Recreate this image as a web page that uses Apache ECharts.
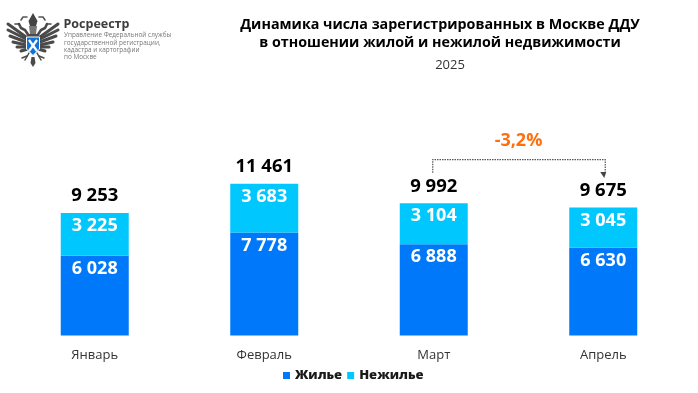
<!DOCTYPE html>
<html><head><meta charset="utf-8">
<style>html,body{margin:0;padding:0;background:#fff}#c{width:698px;height:393px}</style>
<script src="https://cdn.jsdelivr.net/npm/echarts@6/dist/echarts.min.js"></script>
</head><body><div id="c"></div>
<script>
const categories = ['Январь','Февраль','Март','Апрель'];
const housing = [6028,7778,6888,6630];
const nonHousing = [3225,3683,3104,3045];
const totals = [9253,11461,9992,9675];
const changeLabel = '-3,2%';
const bracketFrom = ['Март',12290];
const bracketTop = 13290;
const bracketTo = ['Апрель',11900];
const fmt = v => String(v).replace(/\B(?=(\d{3})+$)/g,' ');
const font = '"Open Sans"';
const chart = echarts.init(document.getElementById('c'));
const barLabel = {show:true,position:'insideTop',distance:4,color:'#fff',fontFamily:font,fontWeight:700,fontSize:18,formatter:p=>fmt(p.value)};

// crest decoration, mirrored about x = 33
const mx = 33, crest = [];
const mir = pts => pts.map(p=>[2*mx-p[0],p[1]]);
const stroke = (pts,w,c) => { [pts,mir(pts)].forEach(q=>crest.push({type:'polyline',shape:{points:q},style:{stroke:c||'#4a4a4a',lineWidth:w,fill:null,lineCap:'round'}})); };
[[[26,37],[8,24]],[[26,39],[8,30]],[[26,42],[10,36]],[[26,45],[13,42]],[[27,47],[17,47]],[[28,49],[21,51]]].forEach(f=>stroke(f,3));
stroke([[29,36],[25,30],[21,28],[19,24]],2.6);
stroke([[19,24],[15,24]],1.5);
stroke([[21,20],[23,17],[27,17]],1.6,'#555');
stroke([[29,53],[25,60]],1.5);
stroke([[27,56],[22,58]],1.5);
crest.push(
  {type:'polygon',shape:{points:[[28,34],[38,34],[40,37],[26,37]]},style:{fill:'#4a4a4a'}},
  {type:'polygon',shape:{points:[[29,26],[37,26],[36,34],[30,34]]},style:{fill:'#777'}},
  {type:'polygon',shape:{points:[[28.5,21],[33,13],[37.5,21],[36,26],[30,26]]},style:{fill:'#444'}},
  {type:'polygon',shape:{points:[[31.5,57],[34.5,57],[35.5,63],[33,67],[30.5,63]]},style:{fill:'#4a4a4a'}},
  {type:'polygon',shape:{points:[[26.5,37],[39.5,37],[39.5,49],[33,55.5],[26.5,49]]},style:{fill:'#1273d6',stroke:'#fff',lineWidth:1}},
  {type:'polyline',shape:{points:[[29,40],[37,51]]},style:{stroke:'#fff',lineWidth:2.2}},
  {type:'polyline',shape:{points:[[37,40],[29,51]]},style:{stroke:'#fff',lineWidth:2.2}}
);

chart.setOption({
  animation:false,
  textStyle:{fontFamily:font},
  grid:{left:10,right:10,top:176.7,bottom:57.5},
  legend:{data:['Жилье','Нежилье'],left:278,top:364,itemWidth:7,itemHeight:7,itemGap:5,icon:'rect',
    textStyle:{fontFamily:font,fontWeight:800,fontSize:13,color:'#1a1a1a'}},
  xAxis:{type:'category',data:categories,axisLine:{show:false},axisTick:{show:false},
    axisLabel:{fontFamily:font,fontSize:13,color:'#333',margin:13}},
  yAxis:{type:'value',min:0,max:12000,show:false},
  series:[
    {name:'Жилье',type:'bar',stack:'t',barWidth:68,data:housing,itemStyle:{color:'#0078fa'},label:barLabel},
    {name:'Нежилье',type:'bar',stack:'t',barWidth:68,data:nonHousing,itemStyle:{color:'#00c8ff'},label:barLabel},
    {name:'Итого',type:'line',data:totals,symbol:'circle',symbolSize:1,itemStyle:{color:'rgba(0,0,0,0)'},lineStyle:{opacity:0},z:5,
      label:{show:true,position:'top',distance:7,color:'#000',fontFamily:font,fontWeight:700,fontSize:18.5,formatter:p=>fmt(p.value)}},
    {name:'Изменение',type:'custom',clip:false,silent:true,z:6,data:[[0]],
      renderItem:(params,api)=>{
        const a=api.coord(bracketFrom), t=api.coord([bracketFrom[0],bracketTop]), b=api.coord(bracketTo);
        const rx=b[0]+2, tr=[rx,t[1]];
        return {type:'group',children:[
          {type:'polyline',shape:{points:[[a[0]-1,a[1]],[a[0]-1,t[1]],tr,[rx,b[1]-5]]},style:{stroke:'#555',lineWidth:1.2,lineDash:[1.5,1],fill:null}},
          {type:'polygon',shape:{points:[[rx-5,b[1]-6],[rx+1,b[1]-6],[rx-1,b[1]]]},style:{fill:'#444'}},
          {type:'text',style:{x:(a[0]+b[0])/2,y:t[1]-18.5,text:changeLabel,fill:'#ff6f0f',font:'700 18px "Open Sans"',align:'center',verticalAlign:'middle'}}
        ]};
      }}
  ],
  graphic:[
    {type:'text',x:440,y:25,style:{text:'Динамика числа зарегистрированных в Москве ДДУ',fill:'#000',font:'700 14.3px "Open Sans"',align:'center',verticalAlign:'middle'}},
    {type:'text',x:440,y:43,style:{text:'в отношении жилой и нежилой недвижимости',fill:'#000',font:'700 14.3px "Open Sans"',align:'center',verticalAlign:'middle'}},
    {type:'text',x:450,y:65,style:{text:'2025',fill:'#333',font:'13px "Open Sans"',align:'center',verticalAlign:'middle'}},
    {type:'text',x:63.5,y:24,style:{text:'Росреестр',fill:'#3c3c3c',font:'700 12.5px "Open Sans"',verticalAlign:'middle'}},
    {type:'text',x:64,y:35.5,style:{text:'Управление Федеральной службы',fill:'#777',font:'6.4px "Open Sans"',verticalAlign:'middle'}},
    {type:'text',x:64,y:43,style:{text:'государственной регистрации,',fill:'#777',font:'6.4px "Open Sans"',verticalAlign:'middle'}},
    {type:'text',x:64,y:50.5,style:{text:'кадастра и картографии',fill:'#777',font:'6.4px "Open Sans"',verticalAlign:'middle'}},
    {type:'text',x:64,y:57.5,style:{text:'по Москве',fill:'#777',font:'6.4px "Open Sans"',verticalAlign:'middle'}},
    ...crest
  ]
});
</script></body></html>
